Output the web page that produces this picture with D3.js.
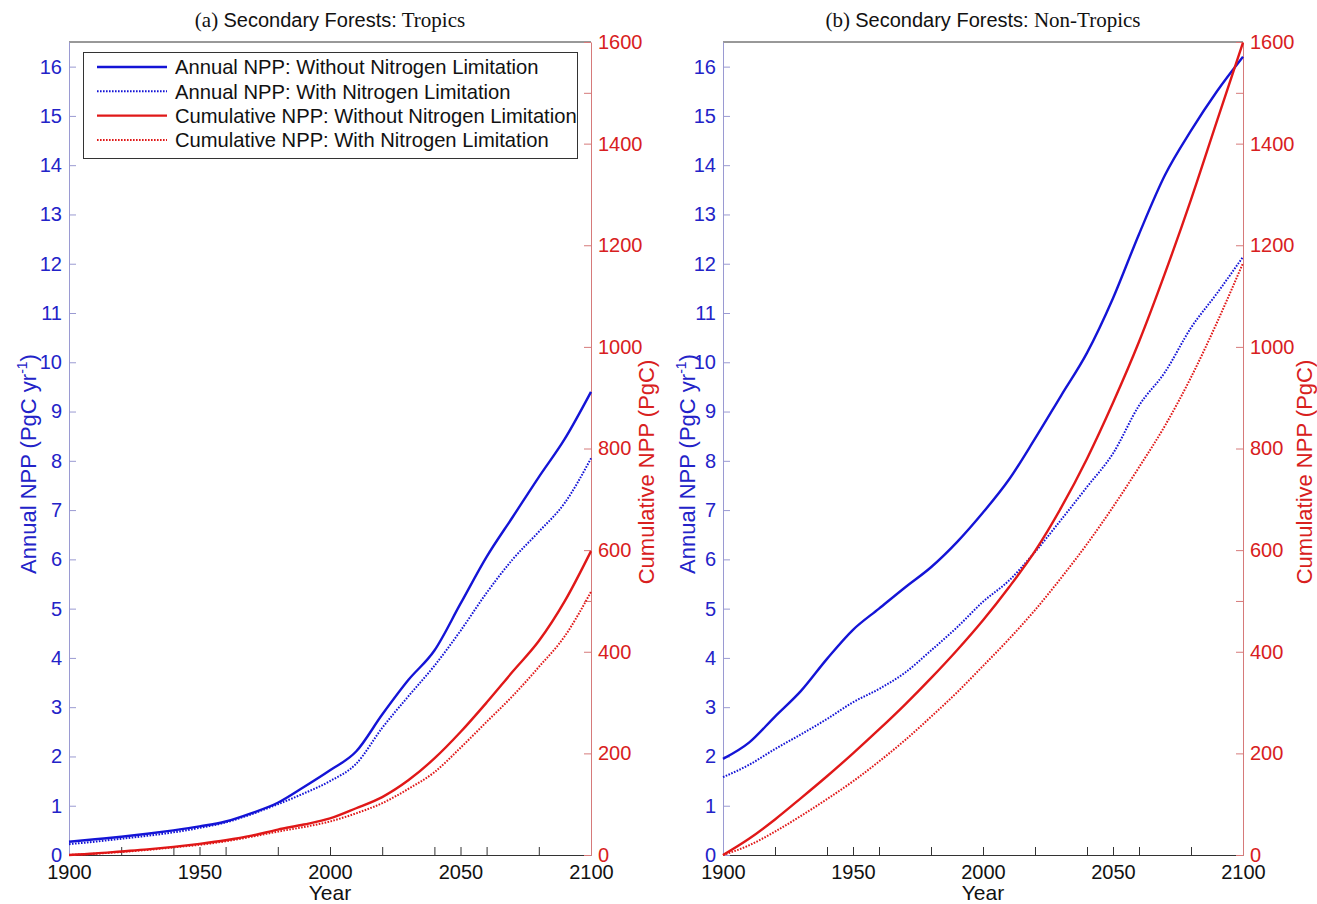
<!DOCTYPE html>
<html>
<head>
<meta charset="utf-8">
<script src="https://cdn.jsdelivr.net/npm/d3@7"></script>
<style>
  html, body { margin: 0; padding: 0; background: #fff; }
  svg text { font-family: "Liberation Sans", Arial, Helvetica, sans-serif; }
</style>
</head>
<body>
<svg id="chart" width="1317" height="904"></svg>
<script>
// ---- data -------------------------------------------------------------
const years = [1900, 1910, 1920, 1930, 1940, 1950, 1960, 1970, 1980, 1990, 2000,
               2010, 2020, 2030, 2040, 2050, 2060, 2070, 2080, 2090, 2100];

// (a) Tropics
const tropicsAnnualNoN = [0.27, 0.32, 0.37, 0.43, 0.50, 0.58, 0.68, 0.85, 1.06, 1.38, 1.72,
                          2.10, 2.85, 3.55, 4.15, 5.10, 6.05, 6.86, 7.67, 8.45, 9.40];
const tropicsAnnualN   = [0.22, 0.27, 0.33, 0.39, 0.46, 0.55, 0.66, 0.83, 1.03, 1.25, 1.50,
                          1.85, 2.58, 3.22, 3.84, 4.55, 5.32, 6.00, 6.56, 7.15, 8.05];
const tropicsCumNoN    = [0, 3, 7, 11, 16, 22, 29, 38, 50, 60, 72,
                          92, 114, 147, 190, 242, 300, 361, 421, 500, 598];
const tropicsCumN      = [0, 2.5, 6, 10, 15, 20, 27, 36, 46, 55, 66,
                          82, 102, 130, 163, 211, 262, 313, 370, 431, 518];

// (b) Non-Tropics
const nonTropicsAnnualNoN = [1.95, 2.28, 2.81, 3.33, 3.98, 4.57, 5.00, 5.43, 5.84, 6.35, 6.95,
                             7.62, 8.45, 9.32, 10.19, 11.30, 12.60, 13.80, 14.70, 15.50, 16.20];
const nonTropicsAnnualN   = [1.58, 1.83, 2.15, 2.45, 2.76, 3.10, 3.37, 3.70, 4.15, 4.62, 5.14,
                             5.57, 6.15, 6.80, 7.47, 8.15, 9.12, 9.80, 10.70, 11.40, 12.14];
const nonTropicsCumNoN    = [0, 32, 70, 112, 155, 200, 247, 296, 348, 403, 462,
                             527, 598, 683, 780, 890, 1010, 1145, 1290, 1445, 1599];
const nonTropicsCumN      = [0, 19, 46, 77, 110, 145, 184, 226, 272, 320, 372,
                             425, 482, 545, 612, 685, 763, 845, 940, 1048, 1165];

// ---- axes ticks -------------------------------------------------------
const yearLabelTicks = [1900, 1950, 2000, 2050, 2100];
const yearMinorTicks = [1920, 1940, 1960, 1980, 2020, 2040, 2060, 2080];
const annualTicks = d3.range(0, 17);
const cumLabelTicks = [0, 200, 400, 600, 800, 1000, 1200, 1400, 1600];
const cumExtraTicks = [500, 1500];

const panelTitles = [
  ["(a) ", "Secondary Forests:", " Tropics"],
  ["(b) ", "Secondary Forests:", " Non-Tropics"]
];
const legendLabels = [
  "Annual NPP: Without Nitrogen Limitation",
  "Annual NPP: With Nitrogen Limitation",
  "Cumulative NPP: Without Nitrogen Limitation",
  "Cumulative NPP: With Nitrogen Limitation"
];

// ---- styling ----------------------------------------------------------
const BLUE = "#1414d6";
const RED = "#e01818";
const BLUE_TEXT = "#2323c8";
const RED_TEXT = "#d82020";
const BLUE_AXIS = "#9a9ad2";
const RED_AXIS = "#d67a7a";

const svg = d3.select("#chart");
const plotTop = 42, plotBottom = 855;

const panels = [
  { x0: 69, x1: 591, title: panelTitles[0], leftLabelGap: 33, rightLabelGap: 63,
    series: [tropicsAnnualNoN, tropicsAnnualN, tropicsCumNoN, tropicsCumN], legend: true },
  { x0: 723, x1: 1243, title: panelTitles[1], leftLabelGap: 28, rightLabelGap: 69,
    series: [nonTropicsAnnualNoN, nonTropicsAnnualN, nonTropicsCumNoN, nonTropicsCumN], legend: false }
];

const styles = [
  { color: BLUE, dash: null, width: 2.4, axis: "left" },
  { color: BLUE, dash: "1.6 1.4", width: 2.0, axis: "left" },
  { color: RED, dash: null, width: 2.4, axis: "right" },
  { color: RED, dash: "1.6 1.4", width: 2.0, axis: "right" }
];

panels.forEach(p => {
  const x = d3.scaleLinear().domain([1900, 2100]).range([p.x0, p.x1]);
  const yL = d3.scaleLinear().domain([0, 16.5]).range([plotBottom, plotTop]);
  const yR = d3.scaleLinear().domain([0, 1600]).range([plotBottom, plotTop]);
  const g = svg.append("g");

  // frame top line
  g.append("line").attr("x1", p.x0).attr("x2", p.x1).attr("y1", plotTop).attr("y2", plotTop)
    .attr("stroke", "#333").attr("stroke-width", 1);

  // bottom axis
  const xAxis = d3.axisBottom(x)
    .tickValues(yearLabelTicks.concat(yearMinorTicks))
    .tickFormat(d => yearLabelTicks.includes(d) ? String(d) : "")
    .tickSizeInner(-8).tickSizeOuter(0).tickPadding(10);
  const gx = g.append("g").attr("transform", `translate(0,${plotBottom})`).call(xAxis);
  gx.select(".domain").attr("stroke", "#333");
  gx.selectAll(".tick line").attr("stroke", "#333");
  gx.selectAll("text").attr("font-size", 20).attr("fill", "#111")
    .attr("font-family", "Liberation Sans, Arial, sans-serif");

  // left axis
  const yAxisL = d3.axisLeft(yL).tickValues(annualTicks).tickFormat(d3.format("d"))
    .tickSizeInner(-7).tickSizeOuter(0).tickPadding(7);
  const gyl = g.append("g").attr("transform", `translate(${p.x0},0)`).call(yAxisL);
  gyl.select(".domain").attr("stroke", BLUE_AXIS);
  gyl.selectAll(".tick line").attr("stroke", BLUE_AXIS);
  gyl.selectAll("text").attr("font-size", 20).attr("fill", BLUE_TEXT)
    .attr("font-family", "Liberation Sans, Arial, sans-serif");

  // right axis
  const yAxisR = d3.axisRight(yR).tickValues(cumLabelTicks).tickFormat(d3.format("d"))
    .tickSizeInner(-7).tickSizeOuter(0).tickPadding(7);
  const gyr = g.append("g").attr("transform", `translate(${p.x1},0)`).call(yAxisR);
  gyr.select(".domain").attr("stroke", RED_AXIS);
  gyr.selectAll(".tick line").attr("stroke", RED_AXIS);
  gyr.selectAll("text").attr("font-size", 20).attr("fill", RED_TEXT)
    .attr("font-family", "Liberation Sans, Arial, sans-serif");
  const yAxisR2 = d3.axisRight(yR).tickValues(cumExtraTicks).tickFormat("")
    .tickSizeInner(-7).tickSizeOuter(0);
  const gyr2 = g.append("g").attr("transform", `translate(${p.x1},0)`).call(yAxisR2);
  gyr2.select(".domain").remove();
  gyr2.selectAll(".tick line").attr("stroke", RED_AXIS);

  // curves
  p.series.forEach((vals, i) => {
    const st = styles[i];
    const yS = st.axis === "left" ? yL : yR;
    const line = d3.line().x((d, k) => x(years[k])).y(d => yS(d)).curve(d3.curveMonotoneX);
    g.append("path").datum(vals)
      .attr("d", line)
      .attr("fill", "none")
      .attr("stroke", st.color)
      .attr("stroke-width", st.width)
      .attr("stroke-dasharray", st.dash)
      .attr("stroke-linejoin", "round");
  });

  // title
  const cx = (p.x0 + p.x1) / 2;
  const t = g.append("text").attr("x", cx).attr("y", 27).attr("text-anchor", "middle")
    .attr("font-size", 21).attr("fill", "#111");
  t.append("tspan").attr("font-family", "Liberation Serif, Times New Roman, serif").text(p.title[0]);
  t.append("tspan").attr("font-family", "Liberation Sans, Arial, sans-serif").attr("font-size", 20).text(p.title[1]);
  t.append("tspan").attr("font-family", "Liberation Serif, Times New Roman, serif").text(p.title[2]);

  // x label
  g.append("text").attr("x", cx).attr("y", 900).attr("text-anchor", "middle")
    .attr("font-size", 21).attr("fill", "#111").text("Year");

  // left y label
  const ly = g.append("text")
    .attr("transform", `translate(${p.x0 - p.leftLabelGap},464) rotate(-90)`)
    .attr("text-anchor", "middle").attr("font-size", 22).attr("fill", BLUE_TEXT);
  ly.append("tspan").text("Annual NPP (PgC yr");
  ly.append("tspan").attr("font-size", 14).attr("dy", -9).text("-1");
  ly.append("tspan").attr("dy", 9).text(")");

  // right y label
  g.append("text")
    .attr("transform", `translate(${p.x1 + p.rightLabelGap},472) rotate(-90)`)
    .attr("text-anchor", "middle").attr("font-size", 22).attr("fill", RED_TEXT)
    .text("Cumulative NPP (PgC)");

  // legend
  if (p.legend) {
    const lg = g.append("g");
    lg.append("rect").attr("x", 83.5).attr("y", 52.5).attr("width", 494).attr("height", 106)
      .attr("fill", "#fff").attr("stroke", "#333").attr("stroke-width", 1);
    const rowY = d3.scaleLinear().domain([0, 3]).range([67, 140]);
    legendLabels.forEach((lab, i) => {
      const st = styles[i];
      lg.append("line").attr("x1", 97).attr("x2", 167).attr("y1", rowY(i)).attr("y2", rowY(i))
        .attr("stroke", st.color).attr("stroke-width", st.width).attr("stroke-dasharray", st.dash);
      lg.append("text").attr("x", 175).attr("y", rowY(i)).attr("dy", "0.36em")
        .attr("font-size", 20.2).attr("fill", "#111").text(lab);
    });
  }
});
</script>
</body>
</html>
